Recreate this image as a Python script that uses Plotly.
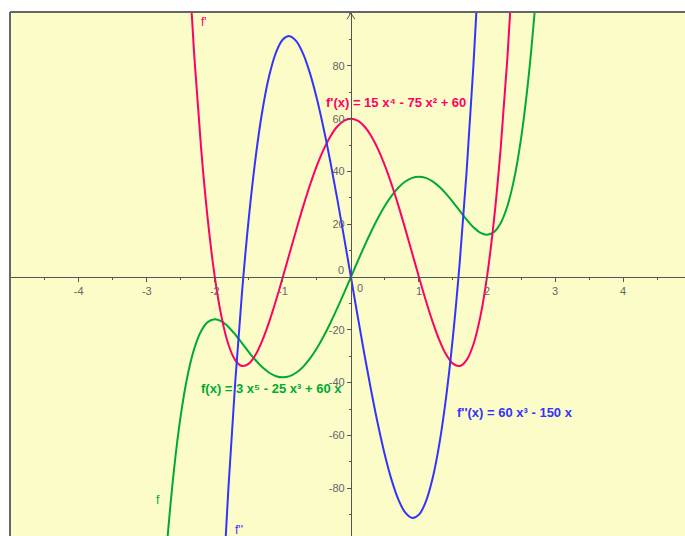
import plotly.graph_objects as go

x_f = [-2.8, -2.7, -2.6, -2.5, -2.4, -2.3, -2.2, -2.1, -2.0, -1.9, -1.8, -1.7, -1.6, -1.5, -1.4, -1.3,
       -1.2, -1.1, -1.0, -0.9, -0.8, -0.7, -0.6, -0.5, -0.4, -0.3, -0.2, -0.1, 0.0,
       0.1, 0.2, 0.3, 0.4, 0.5, 0.6, 0.7, 0.8, 0.9, 1.0, 1.1, 1.2, 1.3, 1.4, 1.5, 1.6, 1.7,
       1.8, 1.9, 2.0, 2.1, 2.2, 2.3, 2.4, 2.5, 2.6, 2.7, 2.8]
y_f = [-135.51, -100.39, -73.04, -52.34, -37.28, -26.92, -20.41, -17.00, -16.00, -16.81, -18.89, -21.77,
       -25.06, -28.41, -31.53, -34.21, -36.26, -37.56, -38.00, -37.55, -36.18, -33.93, -30.83, -26.97,
       -22.43, -17.33, -11.80, -5.975, 0.0,
       5.975, 11.80, 17.33, 22.43, 26.97, 30.83, 33.93, 36.18, 37.55, 38.00, 37.56, 36.26, 34.21,
       31.53, 28.41, 25.06, 21.77, 18.89, 16.81, 16.00, 17.00, 20.41, 26.92, 37.28, 52.34, 73.04,
       100.39, 135.51]

x_fp = [-2.4, -2.3, -2.2, -2.1, -2.0, -1.9, -1.8, -1.7, -1.6, -1.5, -1.4, -1.3, -1.2, -1.1, -1.0,
        -0.9, -0.8, -0.7, -0.6, -0.5, -0.4, -0.3, -0.2, -0.1, 0.0, 0.1, 0.2, 0.3, 0.4, 0.5, 0.6,
        0.7, 0.8, 0.9, 1.0, 1.1, 1.2, 1.3, 1.4, 1.5, 1.6, 1.7, 1.8, 1.9, 2.0, 2.1, 2.2, 2.3, 2.4]
y_fp = [125.66, 83.01, 48.38, 20.97, 0.0, -15.27, -25.54, -31.47, -33.70, -32.81, -29.38, -23.91,
        -16.90, -8.79, 0.0, 9.09, 18.14, 26.85, 34.94, 42.19, 48.38, 53.37, 57.02, 59.25, 60.0,
        59.25, 57.02, 53.37, 48.38, 42.19, 34.94, 26.85, 18.14, 9.09, 0.0, -8.79, -16.90, -23.91,
        -29.38, -32.81, -33.70, -31.47, -25.54, -15.27, 0.0, 20.97, 48.38, 83.01, 125.66]

x_fpp = [-1.9, -1.8, -1.7, -1.6, -1.5, -1.4, -1.3, -1.2, -1.1, -1.0, -0.9, -0.8, -0.7, -0.6, -0.5,
         -0.4, -0.3, -0.2, -0.1, 0.0, 0.1, 0.2, 0.3, 0.4, 0.5, 0.6, 0.7, 0.8, 0.9, 1.0, 1.1, 1.2,
         1.3, 1.4, 1.5, 1.6, 1.7, 1.8, 1.9]
y_fpp = [-126.54, -79.92, -39.78, -5.76, 22.5, 45.36, 63.18, 76.32, 85.14, 90.0, 91.26, 89.28,
         84.42, 77.04, 67.5, 56.16, 43.38, 29.52, 14.94, 0.0, -14.94, -29.52, -43.38, -56.16,
         -67.5, -77.04, -84.42, -89.28, -91.26, -90.0, -85.14, -76.32, -63.18, -45.36, -22.5,
         5.76, 39.78, 79.92, 126.54]

x_tickvals = [-4, -3, -2, -1, 1, 2, 3, 4]
x_ticktext = ["-4", "-3", "-2", "-1", "1", "2", "3", "4"]
y_tickvals = [-80, -60, -40, -20, 20, 40, 60, 80]
y_ticktext = ["-80", "-60", "-40", "-20", "20", "40", "60", "80"]

GREEN = "#00AA33"
PINK = "#FF0066"
BLUE = "#3333FF"
BG = "#FCFCC8"
AXIS = "#555555"
TICKFONT = dict(family="Liberation Sans, Arial, sans-serif", size=11, color="#666666")

XMIN, XMAX = -5.01, 4.91
YMIN, YMAX = -98.1, 100.4

fig = go.Figure()
fig.add_trace(go.Scatter(x=x_f, y=y_f, mode="lines", line=dict(color=GREEN, width=2, shape="spline"),
                         hoverinfo="skip"))
fig.add_trace(go.Scatter(x=x_fp, y=y_fp, mode="lines", line=dict(color=PINK, width=2, shape="spline"),
                         hoverinfo="skip"))
fig.add_trace(go.Scatter(x=x_fpp, y=y_fpp, mode="lines", line=dict(color=BLUE, width=2, shape="spline"),
                         hoverinfo="skip"))

xpos = (0 - YMIN) / (YMAX - YMIN)
ypos = (0 - XMIN) / (XMAX - XMIN)

fig.update_layout(
    width=685, height=536,
    margin=dict(l=10, r=0, t=12, b=0),
    paper_bgcolor="white",
    plot_bgcolor=BG,
    showlegend=False,
    xaxis=dict(range=[XMIN, XMAX], showgrid=False, zeroline=False,
               anchor="free", position=xpos, showline=True, linecolor=AXIS, linewidth=1,
               tickvals=x_tickvals, ticktext=x_ticktext, ticks="outside", ticklen=4,
               tickcolor=AXIS, tickfont=TICKFONT,
               minor=dict(dtick=0.5, tick0=0, ticks="outside", ticklen=2, tickcolor=AXIS)),
    yaxis=dict(range=[YMIN, YMAX], showgrid=False, zeroline=False,
               anchor="free", position=ypos, showline=True, linecolor=AXIS, linewidth=1,
               tickvals=y_tickvals, ticktext=y_ticktext, ticks="outside", ticklen=4,
               tickcolor=AXIS, tickfont=TICKFONT,
               minor=dict(dtick=10, tick0=0, ticks="outside", ticklen=2, tickcolor=AXIS)),
)

# plot frame (left and top edges)
fig.add_shape(type="line", xref="paper", yref="paper", x0=0, x1=0, y0=0, y1=1,
              line=dict(color="#666666", width=2))
fig.add_shape(type="line", xref="paper", yref="paper", x0=0, x1=1, y0=1, y1=1,
              line=dict(color="#666666", width=2))
# arrow head at top of y axis
fig.add_shape(type="path", xref="x", yref="y", xsizemode="pixel", ysizemode="pixel",
              xanchor=0, yanchor=YMAX - 0.5, path="M -4 -6 L 0 0 L 4 -6",
              line=dict(color=AXIS, width=1))

# origin labels
fig.add_annotation(x=0, y=0, xref="x", yref="y", text="0", showarrow=False,
                   xshift=-10, yshift=7, font=TICKFONT)
fig.add_annotation(x=0, y=0, xref="x", yref="y", text="0", showarrow=False,
                   xshift=9, yshift=-11, font=TICKFONT)

LBL = "Liberation Sans, Arial, sans-serif"
fig.add_annotation(x=-2.155, y=96.5, xref="x", yref="y", text="f'", showarrow=False,
                   font=dict(family=LBL, size=12, color=PINK))
fig.add_annotation(x=-2.83, y=-84.5, xref="x", yref="y", text="f", showarrow=False,
                   font=dict(family=LBL, size=12, color=GREEN))
fig.add_annotation(x=-1.65, y=-96, xref="x", yref="y", text="f''", showarrow=False,
                   font=dict(family=LBL, size=12, color=BLUE))

fig.add_annotation(x=-0.39, y=66.2, xref="x", yref="y", xanchor="left",
                   text="<b>f'(x) = 15 x⁴ - 75 x² + 60</b>", showarrow=False,
                   font=dict(family=LBL, size=13, color=PINK))
fig.add_annotation(x=-2.23, y=-42.2, xref="x", yref="y", xanchor="left",
                   text="<b>f(x) = 3 x⁵ - 25 x³ + 60 x</b>", showarrow=False,
                   font=dict(family=LBL, size=13, color=GREEN))
fig.add_annotation(x=1.53, y=-51.3, xref="x", yref="y", xanchor="left",
                   text="<b>f''(x) = 60 x³ - 150 x</b>", showarrow=False,
                   font=dict(family=LBL, size=13, color=BLUE))

fig.write_html("out.html", config={"displayModeBar": False},
               post_script="document.body.style.margin='0px';")
